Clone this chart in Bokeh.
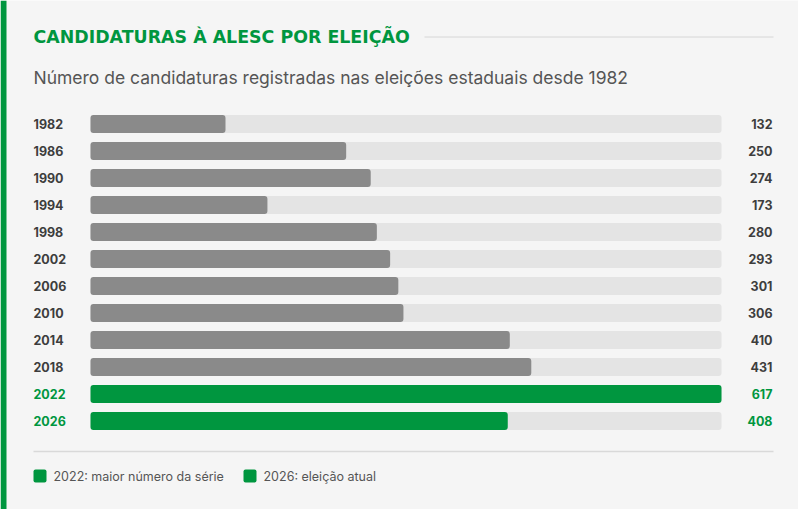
from bokeh.plotting import figure
from bokeh.models import Range1d
from bokeh.embed import file_html
from bokeh.resources import INLINE
from bokeh.core.properties import value

# ---- data ----
years = ["1982", "1986", "1990", "1994", "1998", "2002", "2006", "2010", "2014", "2018", "2022", "2026"]
counts = [132, 250, 274, 173, 280, 293, 301, 306, 410, 431, 617, 408]
highlight = [False] * 10 + [True, True]
title_text = "CANDIDATURAS À ALESC POR ELEIÇÃO"
subtitle_text = "Número de candidaturas registradas nas eleições estaduais desde 1982"
legend_labels = ["2022: maior número da série", "2026: eleição atual"]

GREEN = "#00963f"
GRAY = "#8a8a8a"
TRACK = "#e4e4e4"
BG = "#f5f5f5"

W, H = 798, 509
OFF = 0
bar_left_px = 90 - OFF
bar_right_px = 721 - OFF
vmax = max(counts)
k = (bar_right_px - bar_left_px) / vmax


def px(xref):
    """reference page x (pixels) -> data x"""
    return (xref - OFF - bar_left_px) / k


def py(yref):
    return yref - OFF


p = figure(width=W, height=H, output_backend="svg", toolbar_location=None,
           x_range=Range1d(px(OFF), px(OFF + W)), y_range=Range1d(H, 0),
           min_border=0)
p.axis.visible = False
p.grid.visible = False
p.outline_line_color = None
p.background_fill_color = BG
p.border_fill_color = BG

# left stripe
p.quad(left=[px(OFF)], right=[px(OFF + 6)], top=[0], bottom=[H], fill_color=GREEN, line_color=None)

# title + rule
p.text(x=[px(33)], y=[py(36.5)], text=[title_text], text_font=value("DejaVu Sans"), text_font_style="bold",
       text_font_size="17.4px", text_color=GREEN, text_baseline="middle", text_align="left")
p.segment(x0=[px(424)], x1=[px(773)], y0=[py(36.5)], y1=[py(36.5)], line_color="#d6d6d6", line_width=1)

# subtitle
p.text(x=[px(33)], y=[py(77)], text=[subtitle_text], text_font=value("Inter"),
       text_font_size="17.5px", text_color="#555555", text_baseline="middle", text_align="left")

rows_y = [py(123.5 + 27 * i) for i in range(len(years))]
bar_colors = [GREEN if h else GRAY for h in highlight]
lab_colors = [GREEN if h else "#3d3d3d" for h in highlight]

# tracks
p.hbar(y=rows_y, left=0, right=[vmax] * len(years), height=18, fill_color=TRACK, line_color=None,
       border_radius=3)
# bars
p.hbar(y=rows_y, left=0, right=counts, height=18, fill_color=bar_colors, line_color=None,
       border_radius=3)

# year labels
p.text(x=[px(33)] * len(years), y=rows_y, text=years, text_font=value("Inter"), text_font_style="bold",
       text_font_size="12.5px", text_color=lab_colors, text_baseline="middle", text_align="left")
# value labels
p.text(x=[px(772)] * len(years), y=rows_y, text=[str(c) for c in counts], text_font=value("Inter"),
       text_font_style="bold", text_font_size="12.5px", text_color=lab_colors, text_baseline="middle",
       text_align="right")

# separator
p.segment(x0=[px(33)], x1=[px(773)], y0=[py(451)], y1=[py(451)], line_color="#d9d9d9", line_width=1.5)

# legend
leg_sq_x = [33, 243]
leg_tx_x = [53, 263]
p.quad(left=[px(x) for x in leg_sq_x], right=[px(x + 13) for x in leg_sq_x],
       top=[py(469)] * 2, bottom=[py(482)] * 2, fill_color=GREEN, line_color=None, border_radius=2)
p.text(x=[px(x) for x in leg_tx_x], y=[py(475.5)] * 2, text=legend_labels, text_font=value("Inter"),
       text_font_size="12.5px", text_color="#555555", text_baseline="middle", text_align="left")

open("out.html", "w").write(file_html(p, INLINE))
